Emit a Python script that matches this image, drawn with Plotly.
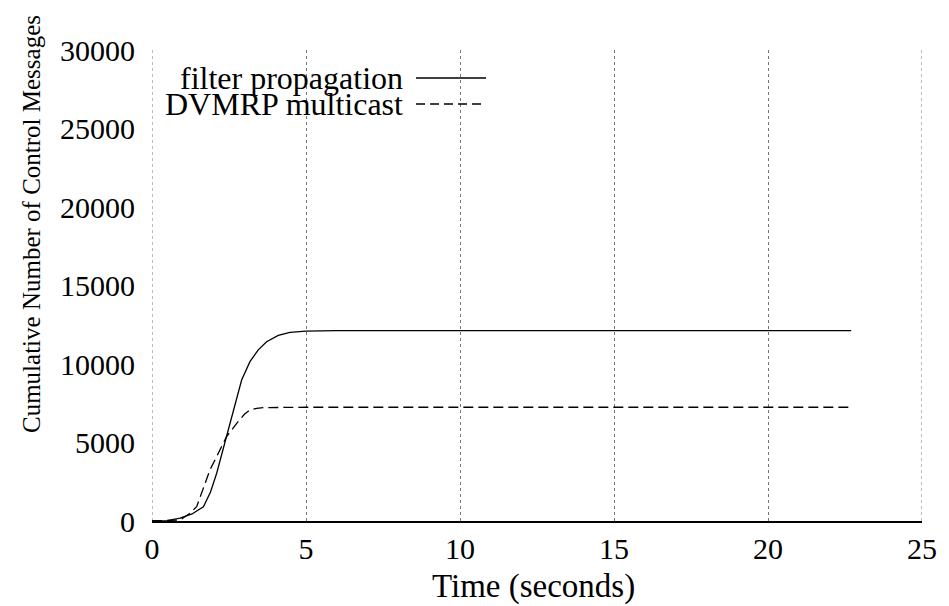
import plotly.graph_objects as go

# Values
time_filter = [0, 0.5, 0.91, 1.3, 1.67, 1.9, 2.1, 2.42, 2.69, 2.91, 3.18, 3.45,
               3.72, 4.1, 4.48, 5.0, 6.0, 10, 15, 20, 22.7]
msgs_filter = [0, 30, 190, 450, 910, 1850, 3040, 5370, 7280, 8980, 10150, 10900,
               11420, 11820, 12020, 12100, 12130, 12130, 12130, 12130, 12130]

time_dvmrp = [0, 0.5, 0.91, 1.2, 1.45, 1.88, 2.21, 2.42, 2.75, 3.0, 3.18, 3.4,
              3.61, 4.0, 5.0, 10, 15, 20, 22.7]
msgs_dvmrp = [0, 20, 60, 450, 910, 3250, 4520, 5370, 6220, 6800, 7070, 7180,
              7220, 7240, 7245, 7245, 7245, 7245, 7245]

x_ticks = [0, 5, 10, 15, 20, 25]
y_ticks = [0, 5000, 10000, 15000, 20000, 25000, 30000]

SERIF = "Liberation Serif, serif"
GRID = dict(color="#777", width=1, dash="dot")

fig = go.Figure()
fig.add_trace(go.Scatter(x=time_filter, y=msgs_filter, mode="lines",
                         name="filter propagation",
                         line=dict(color="black", width=1.3)))
fig.add_trace(go.Scatter(x=time_dvmrp, y=msgs_dvmrp, mode="lines",
                         name="DVMRP multicast",
                         line=dict(color="black", width=1.3, dash="10px,5px")))

# plotly skips grid lines on the plot edges; gnuplot draws them
for xv in (x_ticks[0], x_ticks[-1]):
    fig.add_shape(type="line", xref="x", yref="paper", x0=xv, x1=xv, y0=0, y1=1,
                  line=GRID, layer="below")

# gnuplot-style key: right-aligned text with the line sample after it
key = [("filter propagation", 0.9406, "solid"), ("DVMRP multicast", 0.8854, "9px,5px")]
for label, ky, dash in key:
    fig.add_annotation(text=label, xref="paper", yref="paper", x=0.3286, y=ky,
                       xanchor="right", yanchor="middle", showarrow=False,
                       font=dict(family=SERIF, size=32, color="black"))
    fig.add_shape(type="line", xref="paper", yref="paper",
                  x0=0.3429, x1=0.4338, y0=ky, y1=ky,
                  line=dict(color="black", width=1.3, dash=dash))

# axis titles placed by hand, like gnuplot does
fig.add_annotation(text="Cumulative Number of Control Messages", xref="paper",
                   yref="paper", x=-0.1558, y=0.6306, textangle=-90,
                   xanchor="center", yanchor="middle", showarrow=False,
                   font=dict(family=SERIF, size=25, color="black"))
fig.add_annotation(text="Time (seconds)", xref="paper", yref="paper",
                   x=0.496, y=-0.1401, xanchor="center", yanchor="middle",
                   showarrow=False, font=dict(family=SERIF, size=33, color="black"))

# page body has an 8px margin, so the figure is 8px narrower/shorter
fig.update_layout(
    width=941, height=598,
    margin=dict(l=144, r=27, t=42, b=85),
    paper_bgcolor="white", plot_bgcolor="white",
    showlegend=False,
    font=dict(family=SERIF, size=30, color="black"),
    xaxis=dict(range=[0, 25], tickvals=x_ticks, ticks="", showline=True,
               linecolor="black", linewidth=1.5, showgrid=True,
               gridcolor=GRID["color"], griddash="dot", gridwidth=1, zeroline=False,
               tickfont=dict(family=SERIF, size=30)),
    yaxis=dict(range=[0, 30000], tickvals=y_ticks, tickformat="d", ticks="",
               showline=False, showgrid=False, zeroline=False,
               ticklabelstandoff=16, tickfont=dict(family=SERIF, size=30)),
)

fig.write_html("out.html")
